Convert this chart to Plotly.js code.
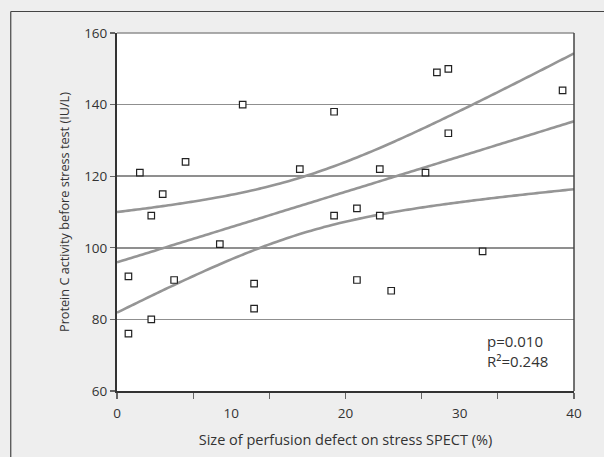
<!DOCTYPE html>
<html>
<head>
<meta charset="utf-8">
<script src="https://cdn.plot.ly/plotly-3.0.1.min.js"></script>
<style>
  html, body { margin: 0; padding: 0; background: #eeeeee; }
  #chart { width: 604px; height: 457px; }
</style>
</head>
<body>
<div id="chart"></div>
<script>
// Data
const defectSize = [1, 1, 2, 3, 3, 4, 5, 6, 9, 11, 12, 12, 16, 19, 19, 21, 21, 23, 23, 24, 27, 28, 29, 29, 32, 39];
const proteinC   = [92, 76, 121, 109, 80, 115, 91, 124, 101, 140, 90, 83, 122, 138, 109, 111, 91, 122, 109, 88, 121, 149, 150, 132, 99, 144];
const xTickLabels = [0, 10, 20, 30, 40];
const yTickLabels = [60, 80, 100, 120, 140, 160];
const statsText = ["p=0.010", "R\u00B2=0.248"];

// Linear regression with 95% confidence band for the mean
const n = defectSize.length;
const mx = defectSize.reduce((a, b) => a + b, 0) / n;
const my = proteinC.reduce((a, b) => a + b, 0) / n;
let sxx = 0, sxy = 0;
for (let i = 0; i < n; i++) {
  sxx += (defectSize[i] - mx) ** 2;
  sxy += (defectSize[i] - mx) * (proteinC[i] - my);
}
const slope = sxy / sxx;
const intercept = my - slope * mx;
let ssr = 0;
for (let i = 0; i < n; i++) {
  ssr += (proteinC[i] - (intercept + slope * defectSize[i])) ** 2;
}
const s = Math.sqrt(ssr / (n - 2));
const tCrit = 2.064; // t(0.975, df=24)
const fitX = [], fitY = [], upY = [], loY = [];
for (let k = 0; k <= 80; k++) {
  const x = k * 0.5;
  const yh = intercept + slope * x;
  const hw = tCrit * s * Math.sqrt(1 / n + (x - mx) ** 2 / sxx);
  fitX.push(x); fitY.push(yh); upY.push(yh + hw); loY.push(yh - hw);
}

const lineStyle = { color: '#959595', width: 2.6, shape: 'spline' };
const traces = [
  { x: fitX, y: upY, mode: 'lines', line: lineStyle, hoverinfo: 'skip' },
  { x: fitX, y: fitY, mode: 'lines', line: lineStyle, hoverinfo: 'skip' },
  { x: fitX, y: loY, mode: 'lines', line: lineStyle, hoverinfo: 'skip' },
  {
    x: defectSize, y: proteinC, mode: 'markers',
    marker: { symbol: 'square', size: 6.5, color: '#ffffff', line: { color: '#222222', width: 1.2 } }
  }
];

const fontFam = '"Open Sans", "Noto Sans", sans-serif';
const layout = {
  width: 604, height: 457,
  paper_bgcolor: '#eeeeee',
  plot_bgcolor: '#ffffff',
  showlegend: false,
  margin: { l: 117, r: 30, t: 33, b: 65.5, pad: 0 },
  font: { family: fontFam, color: '#333333', size: 13 },
  xaxis: {
    range: [0, 40],
    tickvals: xTickLabels,
    ticktext: xTickLabels.map(String),
    ticks: '',
    ticklabelstandoff: 9,
    showgrid: false,
    zeroline: false,
    showline: true, linecolor: '#333333', linewidth: 2,
    tickfont: { size: 13.5, color: '#333333', family: fontFam },
    minor: { tick0: 0, dtick: 40 / 6, ticks: 'outside', ticklen: 6, tickwidth: 1.2, tickcolor: '#666666', showgrid: false },
    title: { text: 'Size of perfusion defect on stress SPECT (%)', font: { size: 14.5, color: '#333333', family: fontFam }, standoff: 14 }
  },
  yaxis: {
    range: [60, 160],
    tickvals: yTickLabels,
    ticktext: yTickLabels.map(String),
    ticks: 'outside', ticklen: 5, tickwidth: 1.2, tickcolor: '#666666',
    showgrid: true, gridcolor: '#8f8f8f', gridwidth: 1.5,
    zeroline: false,
    showline: true, linecolor: '#333333', linewidth: 2,
    tickfont: { size: 13.5, color: '#333333', family: fontFam },
    title: { text: 'Protein C activity before stress test (IU/L)', font: { size: 12.7, color: '#333333', family: fontFam }, standoff: 12 }
  },
  shapes: [
    // darker gridline at 120
    { type: 'line', xref: 'paper', yref: 'y', x0: 0, x1: 1, y0: 120, y1: 120, line: { color: '#444444', width: 1.2 }, layer: 'below' },
    // plot frame top and right
    { type: 'line', xref: 'paper', yref: 'paper', x0: 0, x1: 1, y0: 1, y1: 1, line: { color: '#8f8f8f', width: 1.5 } },
    { type: 'line', xref: 'paper', yref: 'paper', x0: 1, x1: 1, y0: 0, y1: 1, line: { color: '#444444', width: 1.5 } },
    // outer frame (left and top)
    { type: 'line', xref: 'paper', yref: 'paper', x0: -0.2325, x1: -0.2325, y0: -0.2, y1: 1.0600, line: { color: '#444444', width: 1.2 } },
    { type: 'line', xref: 'paper', yref: 'paper', x0: -0.2325, x1: 1.1, y0: 1.0600, y1: 1.0600, line: { color: '#444444', width: 1.2 } }
  ],
  annotations: [
    { xref: 'x', yref: 'y', x: 32.2, y: 74.0, xanchor: 'left', yanchor: 'middle', showarrow: false,
      text: statsText[0], align: 'left', font: { size: 15, color: '#333333', family: fontFam } },
    { xref: 'x', yref: 'y', x: 32.2, y: 68.5, xanchor: 'left', yanchor: 'middle', showarrow: false,
      text: statsText[1], align: 'left', font: { size: 15, color: '#333333', family: fontFam } }
  ]
};

Plotly.newPlot('chart', traces, layout, { displayModeBar: false, staticPlot: true });
</script>
</body>
</html>
